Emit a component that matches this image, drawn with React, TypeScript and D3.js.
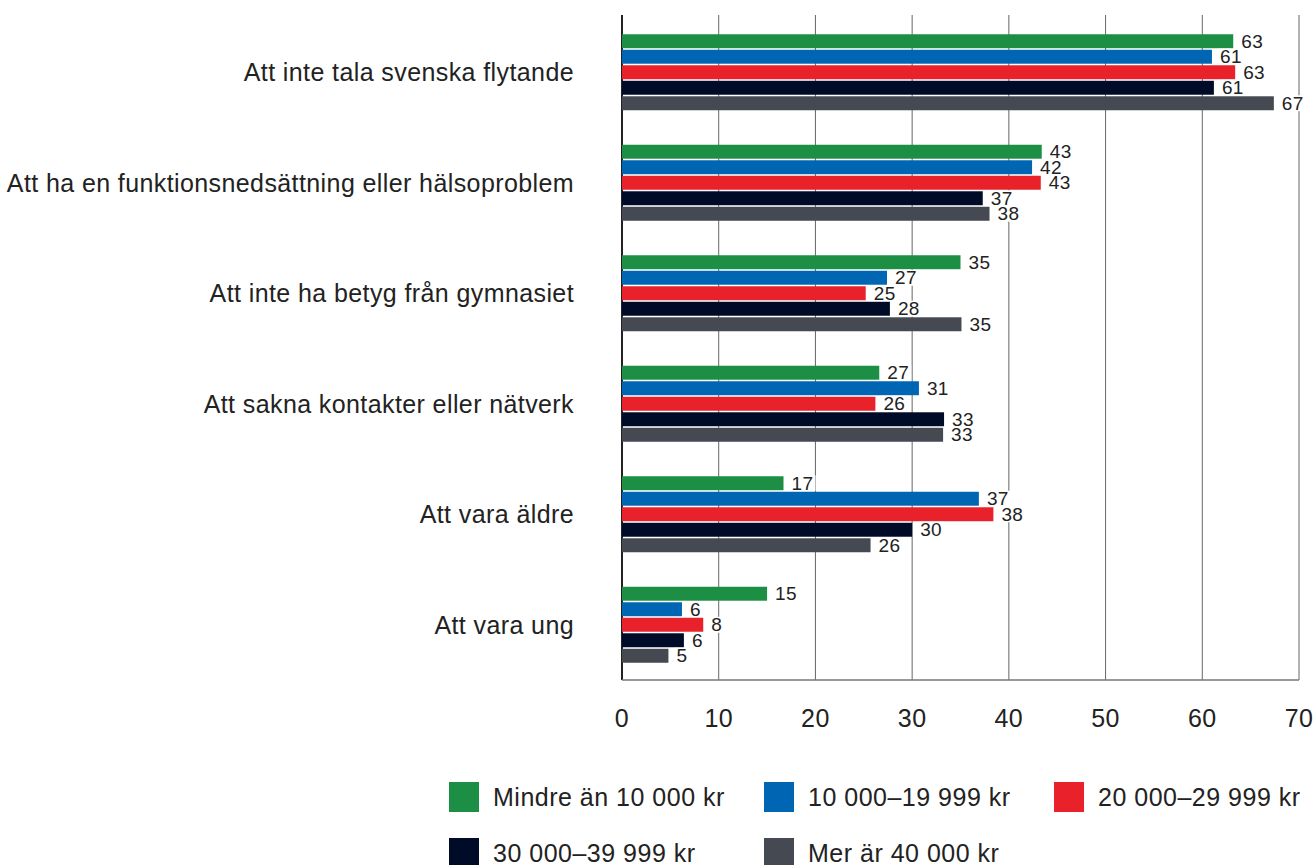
import React from "react";
import * as d3 from "d3";

const categories = [
  "Att inte tala svenska flytande",
  "Att ha en funktionsnedsättning eller hälsoproblem",
  "Att inte ha betyg från gymnasiet",
  "Att sakna kontakter eller nätverk",
  "Att vara äldre",
  "Att vara ung",
];
const series = [
  "Mindre än 10 000 kr",
  "10 000–19 999 kr",
  "20 000–29 999 kr",
  "30 000–39 999 kr",
  "Mer är 40 000 kr",
];
const colors = ["#1c8f45", "#0066b3", "#e8212a", "#000b28", "#454a52"];
const s1 = [63.2, 43.4, 35.0, 26.6, 16.7, 15.0];
const s2 = [61.0, 42.4, 27.4, 30.7, 36.9, 6.2];
const s3 = [63.4, 43.3, 25.2, 26.2, 38.4, 8.4];
const s4 = [61.2, 37.3, 27.7, 33.3, 30.0, 6.4];
const s5 = [67.4, 38.0, 35.1, 33.2, 25.7, 4.8];
const values = [s1, s2, s3, s4, s5];
const ticks = [0, 10, 20, 30, 40, 50, 60, 70];

const W = 1313;
const H = 865;
const FONT = "'Liberation Sans', Arial, sans-serif";

export default function App() {
  const x = d3.scaleLinear().domain([0, 70]).range([622, 1299]);
  const y = d3.scaleBand<string>().domain(categories).range([17, 680]);
  const inner = d3
    .scaleBand<string>()
    .domain(series)
    .range([-38, 38])
    .paddingInner(0.1);
  const top = 15;
  const bottom = 680;

  const legendRows = [
    [0, 1, 2],
    [3, 4],
  ];
  const legendX = [449, 764, 1054];
  const legendY = [782, 838];

  return (
    <svg
      width={W}
      height={H}
      style={{ position: "absolute", left: 0, top: 0, background: "#fff" }}
      fontFamily={FONT}
    >
      {ticks.map((t) => (
        <line
          key={"g" + t}
          x1={x(t)}
          x2={x(t)}
          y1={top}
          y2={bottom}
          stroke={t === 0 ? "#222" : "#666"}
          strokeWidth={t === 0 ? 2 : 1}
        />
      ))}
      <line x1={x(0)} x2={x(70)} y1={bottom} y2={bottom} stroke="#777" strokeWidth={1.5} />
      {ticks.map((t) => (
        <text
          key={"t" + t}
          x={x(t)}
          y={718}
          textAnchor="middle"
          dominantBaseline="central"
          fontSize={25}
          letterSpacing={0.4}
          fill="#222"
        >
          {t}
        </text>
      ))}
      {categories.map((c, ci) => {
        const cy = (y(c) as number) + y.bandwidth() / 2;
        return (
          <g key={c}>
            <text
              x={574}
              y={cy}
              textAnchor="end"
              dominantBaseline="central"
              fontSize={25}
              letterSpacing={0.4}
              fill="#222"
            >
              {c}
            </text>
            {series.map((s, si) => {
              const v = values[si][ci];
              const by = cy + (inner(s) as number);
              const bh = inner.bandwidth();
              const lbl = String(Math.round(v));
              return (
                <g key={s}>
                  <rect x={x(v) - x(0) > 0 ? x(0) : x(0)} y={by} width={x(v) - x(0)} height={bh} fill={colors[si]} />
                  <rect
                    x={x(v) + 6}
                    y={by + bh / 2 - 8}
                    width={lbl.length * 11 + 4}
                    height={16}
                    fill="#fff"
                  />
                  <text
                    x={x(v) + 8}
                    y={by + bh / 2}
                    dominantBaseline="central"
                    fontSize={19}
                    letterSpacing={0.4}
                    fill="#222"
                  >
                    {lbl}
                  </text>
                </g>
              );
            })}
          </g>
        );
      })}
      {legendRows.map((row, ri) =>
        row.map((si, k) => (
          <g key={"l" + si}>
            <rect x={legendX[k]} y={legendY[ri]} width={30} height={30} fill={colors[si]} />
            <text
              x={legendX[k] + 44}
              y={legendY[ri] + 15}
              dominantBaseline="central"
              fontSize={25}
              letterSpacing={0.5}
              fill="#222"
            >
              {series[si]}
            </text>
          </g>
        ))
      )}
    </svg>
  );
}
